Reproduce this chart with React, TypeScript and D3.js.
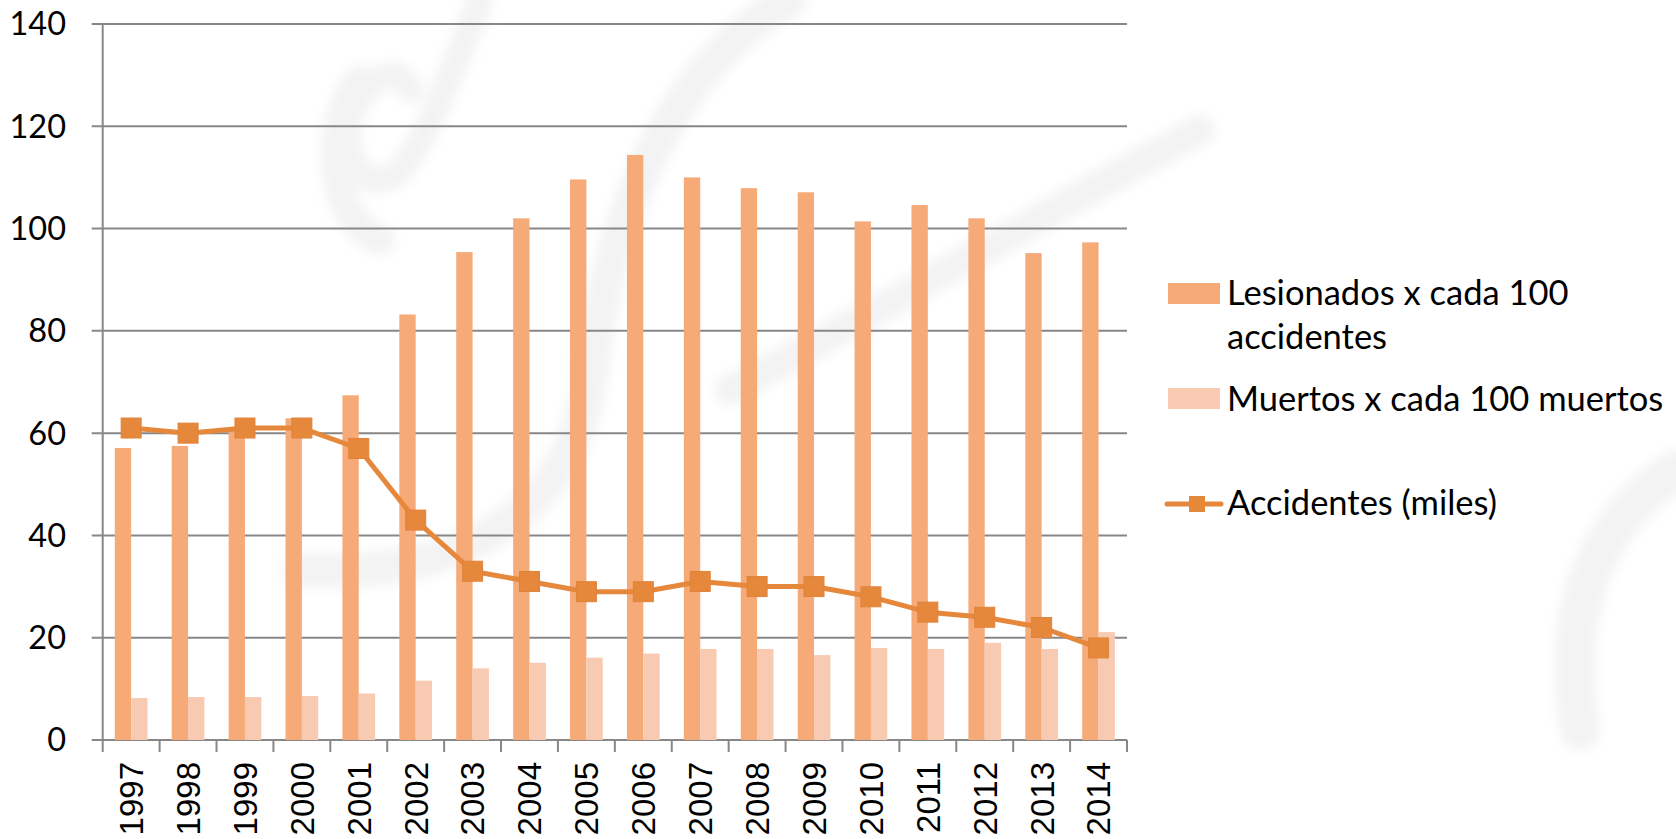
import * as d3 from 'd3';
import React, { useEffect, useRef } from 'react';

const years = ['1997', '1998', '1999', '2000', '2001', '2002', '2003', '2004', '2005',
  '2006', '2007', '2008', '2009', '2010', '2011', '2012', '2013', '2014'];
const lesionados = [57.1, 57.5, 61, 62.9, 67.4, 83.2, 95.4, 102, 109.6,
  114.4, 110, 107.9, 107.1, 101.4, 104.6, 102, 95.2, 97.3];
const muertos = [8.2, 8.4, 8.4, 8.6, 9.1, 11.6, 14, 15.1, 16.1,
  16.9, 17.8, 17.8, 16.6, 18, 17.8, 19, 17.8, 21.1];
const accidentes = [61, 60, 61, 61, 57, 43, 33, 31, 29, 29, 31, 30, 30, 28, 25, 24, 22, 18];
const yTicks = [0, 20, 40, 60, 80, 100, 120, 140];
const seriesNames = ['Lesionados x cada 100 accidentes', 'Muertos x cada 100 muertos', 'Accidentes (miles)'];

const COL_LES = '#F6AA78';
const COL_MUE = '#F8CAB2';
const COL_ACC = '#E6883C';
const GRID = '#878787';

const App: React.FC = () => {
  const ref = useRef<SVGSVGElement | null>(null);

  useEffect(() => {
    const width = 1676;
    const height = 839;
    const left = 102.7;
    const right = 1127;
    const top = 24;
    const bottom = 740;

    const svg = d3.select(ref.current);
    svg.selectAll('*').remove();
    svg.attr('width', width).attr('height', height);

    // faint watermark swirls in the background
    const defs = svg.append('defs');
    defs.append('filter').attr('id', 'soft').attr('x', '-20%').attr('y', '-20%').attr('width', '140%').attr('height', '140%')
      .append('feGaussianBlur').attr('stdDeviation', 6);
    const wm = svg.append('g').attr('fill', 'none').attr('stroke', '#f3f3f3')
      .attr('stroke-linecap', 'round').attr('filter', 'url(#soft)');
    wm.append('path').attr('d', 'M480,0 C450,80 420,150 400,170 C370,200 340,160 350,120 C360,80 400,60 410,90').attr('stroke-width', 26);
    wm.append('path').attr('d', 'M360,80 C320,130 330,220 380,240').attr('stroke-width', 30);
    wm.append('path').attr('d', 'M790,0 C680,60 610,200 590,380 C570,520 450,580 300,570').attr('stroke-width', 34);
    wm.append('path').attr('d', 'M730,390 C900,300 1050,210 1200,130').attr('stroke-width', 30);
    wm.append('path').attr('d', 'M1676,470 C1600,520 1560,600 1580,730').attr('stroke-width', 40);

    const x0 = d3.scaleBand<string>().domain(years).range([left, right]).paddingInner(0).paddingOuter(0);
    const x1 = d3.scaleBand<string>().domain(['les', 'mue']).range([0, x0.step()]).paddingInner(0).paddingOuter(0.74);
    const y = d3.scaleLinear().domain([0, 140]).range([bottom, top]);

    // gridlines + y axis ticks
    svg.append('g').selectAll('line').data(yTicks).enter().append('line')
      .attr('x1', left - 11).attr('x2', right)
      .attr('y1', (d) => y(d)).attr('y2', (d) => y(d))
      .attr('stroke', GRID).attr('stroke-width', 2);

    svg.append('line').attr('x1', left).attr('x2', left).attr('y1', top).attr('y2', bottom)
      .attr('stroke', GRID).attr('stroke-width', 2);

    svg.append('g').selectAll('text').data(yTicks).enter().append('text')
      .attr('x', 66).attr('y', (d) => y(d)).attr('dy', '0.35em')
      .attr('text-anchor', 'end')
      .style('font-family', 'Lato, "Open Sans", sans-serif').style('font-size', '32.5px').attr('fill', '#000')
      .text((d) => d);

    // x ticks
    const xTickPos = years.map((yr) => x0(yr) as number).concat([right]);
    svg.append('g').selectAll('line').data(xTickPos).enter().append('line')
      .attr('x1', (d) => d).attr('x2', (d) => d).attr('y1', bottom).attr('y2', bottom + 12)
      .attr('stroke', GRID).attr('stroke-width', 2);

    // bars
    const groups = svg.append('g').selectAll('g').data(years).enter().append('g')
      .attr('transform', (d) => `translate(${x0(d)},0)`);
    groups.append('rect')
      .attr('x', x1('les') as number).attr('width', x1.bandwidth())
      .attr('y', (_d, i) => y(lesionados[i])).attr('height', (_d, i) => bottom - y(lesionados[i]))
      .attr('fill', COL_LES);
    groups.append('rect')
      .attr('x', x1('mue') as number).attr('width', x1.bandwidth())
      .attr('y', (_d, i) => y(muertos[i])).attr('height', (_d, i) => bottom - y(muertos[i]))
      .attr('fill', COL_MUE);

    // year labels
    svg.append('g').selectAll('text').data(years).enter().append('text')
      .attr('transform', (d) => `translate(${(x0(d) as number) + x0.step() / 2},762) rotate(-90)`)
      .attr('dy', '0.36em').attr('text-anchor', 'end')
      .style('font-family', '"Liberation Sans", Arial, sans-serif').style('font-size', '33px').attr('fill', '#000')
      .text((d) => d);

    // line series
    const cx = (i: number) => (x0(years[i]) as number) + x0.step() / 2;
    const line = d3.line<number>().x((_d, i) => cx(i)).y((d) => y(d));
    svg.append('path').datum(accidentes).attr('d', line)
      .attr('fill', 'none').attr('stroke', COL_ACC).attr('stroke-width', 5).attr('stroke-linejoin', 'round');
    svg.append('g').selectAll('rect').data(accidentes).enter().append('rect')
      .attr('x', (_d, i) => cx(i) - 10).attr('y', (d) => y(d) - 10)
      .attr('width', 20).attr('height', 20)
      .attr('fill', COL_ACC).attr('stroke', '#E0823A').attr('stroke-width', 1);

    // legend
    const legend = svg.append('g').style('font-family', 'Lato, "Open Sans", sans-serif').style('font-size', '34.5px');
    legend.append('rect').attr('x', 1168).attr('y', 283).attr('width', 52).attr('height', 21).attr('fill', COL_LES);
    const t1 = legend.append('text').attr('x', 1227).attr('y', 305);
    t1.append('tspan').attr('x', 1227).text('Lesionados x cada 100');
    t1.append('tspan').attr('x', 1227).attr('dy', 44).text('accidentes');
    legend.append('rect').attr('x', 1168).attr('y', 388).attr('width', 52).attr('height', 21).attr('fill', COL_MUE);
    legend.append('text').attr('x', 1227).attr('y', 411).text(seriesNames[1]);
    legend.append('line').attr('x1', 1167).attr('x2', 1221).attr('y1', 504).attr('y2', 504)
      .attr('stroke', COL_ACC).attr('stroke-width', 5).attr('stroke-linecap', 'round');
    legend.append('rect').attr('x', 1189).attr('y', 496).attr('width', 16).attr('height', 16).attr('fill', COL_ACC);
    legend.append('text').attr('x', 1227).attr('y', 515).text(seriesNames[2]);
  }, []);

  return (
    <svg ref={ref} style={{ position: 'absolute', left: 0, top: 0, display: 'block', background: '#fff' }}></svg>
  );
};

export default App;
